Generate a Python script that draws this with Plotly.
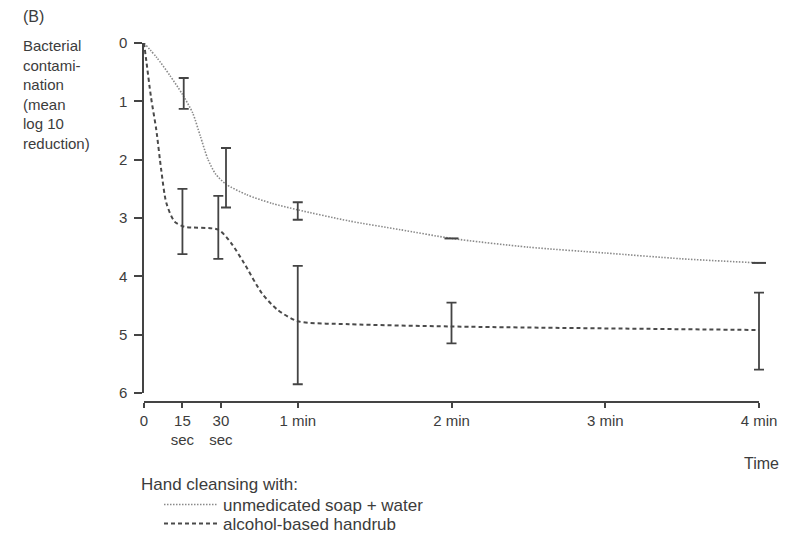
import plotly.graph_objects as go

# ---- curves (time in seconds, mean log10 reduction) ----
soap_t = [0, 5, 10, 15, 19, 22, 25, 28, 32, 40, 50, 60, 80, 100, 120, 150, 180, 210, 240]
soap_v = [0, 0.25, 0.55, 0.88, 1.2, 1.6, 2.0, 2.25, 2.42, 2.6, 2.75, 2.86, 3.05, 3.2, 3.35, 3.5, 3.6, 3.7, 3.77]
alc_t = [0, 1, 2.7, 4.8, 6.7, 8.7, 11.9, 15.8, 29, 34, 39, 46, 52, 60, 80, 120, 240]
alc_v = [0, 0.34, 0.92, 1.49, 2.17, 2.74, 3.06, 3.15, 3.2, 3.43, 3.77, 4.29, 4.57, 4.77, 4.82, 4.86, 4.92]

# ---- error bars ----
soap_err_t = [15.5, 32, 60]
soap_err_mean = [0.88, 2.31, 2.88]
soap_err_low = [0.60, 1.80, 2.73]
soap_err_high = [1.13, 2.82, 3.03]
soap_mark_t = [120, 240]
soap_mark_v = [3.35, 3.77]

alc_err_t = [15, 29, 60, 120, 240]
alc_err_mean = [3.12, 3.18, 4.79, 4.86, 4.92]
alc_err_low = [2.50, 2.62, 3.82, 4.45, 4.28]
alc_err_high = [3.62, 3.70, 5.85, 5.15, 5.60]

x_range = [0, 240]
x_tickvals = [0, 15, 30, 60, 120, 180, 240]
x_ticktext = ["0", "15<br>sec", "30<br>sec", "1 min", "2 min", "3 min", "4 min"]
y_tickvals = [0, 1, 2, 3, 4, 5, 6]
y_title_lines = ["Bacterial", "contami-", "nation", "(mean", "log 10", "reduction)"]
legend_title = "Hand cleansing with:"
series_names = ["unmedicated soap + water", "alcohol-based handrub"]

FONT = "Liberation Sans, Arial, Helvetica, sans-serif"
INK = "#3c3c3c"
W, H = 790, 536
OFF = 8   # page body margin: the figure is drawn 8px from the window's corner
PAD = 10  # extra room left/right so the end error-bar caps are not clipped
# axes area in window pixels: x 144..759, y 43..402
ML = 144 - OFF - PAD
MR = W - (759 - OFF) - PAD
MT = 43 - OFF
MB = H - (402 - OFF)
PW, PH = W - ML - MR, H - MT - MB
SCALE = (PW - 2 * PAD) / (x_range[1] - x_range[0])  # px per second


def px(p):
    """window x pixel -> paper x"""
    return (p - OFF - ML) / PW


def py(p):
    """window y pixel -> paper y"""
    return (H - MB - (p - OFF)) / PH


fig = go.Figure()

fig.add_trace(go.Scatter(
    x=soap_t, y=soap_v, mode="lines", name=series_names[0], legend="legend",
    line=dict(color="#8a8a8a", width=1.6, dash="1.5px,1.5px", shape="spline", smoothing=0.7),
))
fig.add_trace(go.Scatter(
    x=alc_t, y=alc_v, mode="lines", name=series_names[1], legend="legend2",
    line=dict(color="#4a4a4a", width=2, dash="4px,3px", shape="spline", smoothing=0.7),
))

err_style = dict(type="data", symmetric=False, color="#444444", thickness=1.8, width=5)

fig.add_trace(go.Scatter(
    x=soap_err_t, y=soap_err_mean, mode="markers", showlegend=False, cliponaxis=False,
    xaxis="x2", yaxis="y",
    marker=dict(size=0.1, color="rgba(0,0,0,0)"),
    error_y=dict(array=[h - m for h, m in zip(soap_err_high, soap_err_mean)],
                 arrayminus=[m - l for m, l in zip(soap_err_mean, soap_err_low)], **err_style),
))
fig.add_trace(go.Scatter(
    x=alc_err_t, y=alc_err_mean, mode="markers", showlegend=False, cliponaxis=False,
    xaxis="x2", yaxis="y",
    marker=dict(size=0.1, color="rgba(0,0,0,0)"),
    error_y=dict(array=[h - m for h, m in zip(alc_err_high, alc_err_mean)],
                 arrayminus=[m - l for m, l in zip(alc_err_mean, alc_err_low)], **err_style),
))
fig.add_trace(go.Scatter(
    x=soap_mark_t, y=soap_mark_v, mode="markers", showlegend=False, cliponaxis=False,
    xaxis="x2", yaxis="y",
    marker=dict(symbol="line-ew", size=10, line=dict(width=2, color="#444444")),
))

annotations = [
    dict(text="(B)", x=px(21), y=py(16), xanchor="left", yanchor="middle",
         font=dict(size=16, color=INK)),
    dict(text="Time", x=px(781), y=py(463), xanchor="right", yanchor="middle",
         font=dict(size=16, color=INK)),
    dict(text="<br>".join(y_title_lines), x=px(21), y=py(35), xanchor="left",
         yanchor="top", align="left", font=dict(size=15, color=INK)),
    dict(text=legend_title, x=px(139), y=py(484), xanchor="left", yanchor="middle",
         font=dict(size=17, color=INK)),
]
for a in annotations:
    a.update(xref="paper", yref="paper", showarrow=False)

legend_common = dict(x=px(139), xanchor="left", yanchor="middle",
                     font=dict(size=17, color=INK), bgcolor="rgba(0,0,0,0)",
                     indentation=20, itemwidth=54, tracegroupgap=0)

fig.update_layout(
    width=W, height=H,
    margin=dict(l=ML, r=MR, t=MT, b=MB, autoexpand=False),
    paper_bgcolor="white", plot_bgcolor="rgba(0,0,0,0)",
    font=dict(family=FONT, color=INK),
    annotations=annotations,
    xaxis=dict(range=x_range, domain=[PAD / PW, 1 - PAD / PW],
               tickvals=x_tickvals, ticktext=x_ticktext,
               ticks="outside", ticklen=5, tickwidth=1.5, tickcolor="#444",
               showline=True, linecolor="#444", linewidth=1.5,
               showgrid=False, zeroline=False, anchor="free", position=0,
               tickfont=dict(size=15, color=INK), automargin=False),
    xaxis2=dict(range=[x_range[0] - PAD / SCALE, x_range[1] + PAD / SCALE], domain=[0, 1],
                visible=False, anchor="y", showgrid=False, zeroline=False),
    yaxis=dict(range=[6, 0], domain=[py(393), 1], tickvals=y_tickvals, anchor="x",
               ticks="outside", ticklen=8, tickwidth=1.5, tickcolor="#444",
               showline=True, linecolor="#444", linewidth=1.5, ticklabelstandoff=4,
               showgrid=False, zeroline=False, tickfont=dict(size=15, color=INK),
               automargin=False),
    legend=dict(y=py(505), **legend_common),
    legend2=dict(y=py(524), **legend_common),
)

fig.write_html("out.html")
